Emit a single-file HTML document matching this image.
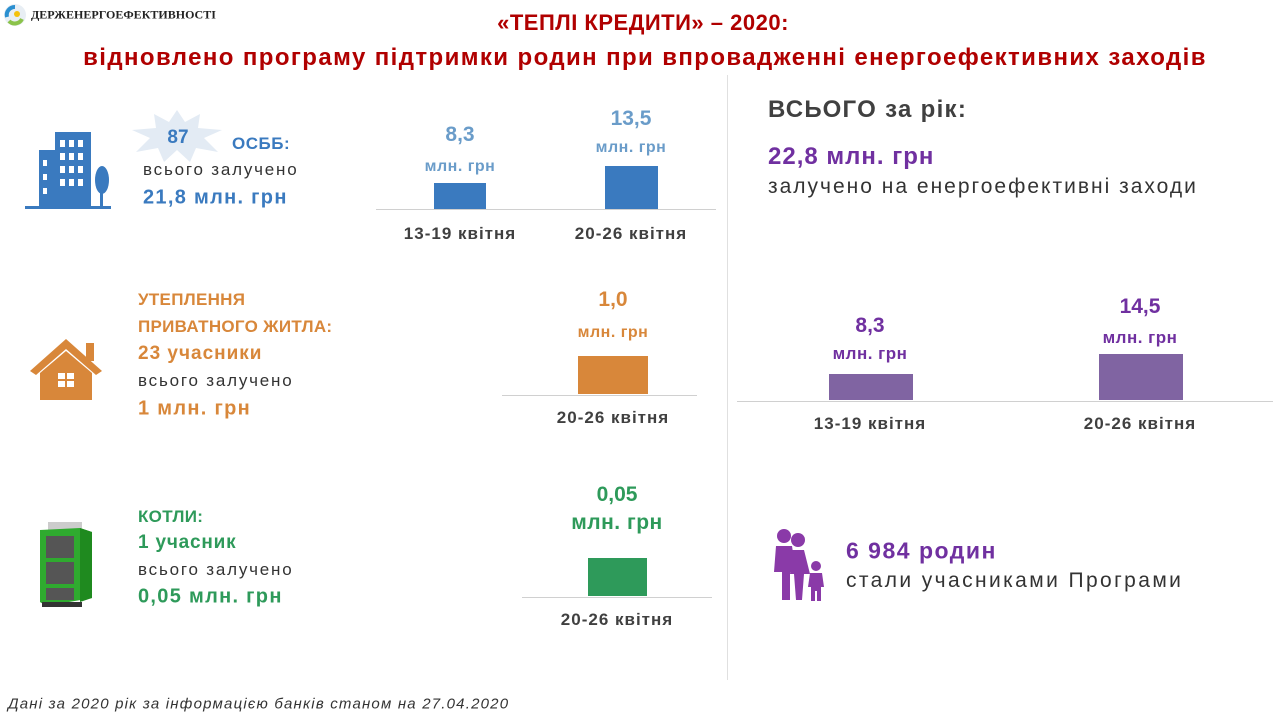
<!DOCTYPE html>
<html><head><meta charset="utf-8"><style>
body{margin:0;width:1280px;height:720px;background:#fff;position:relative;overflow:hidden;font-family:"Liberation Sans","DejaVu Sans",sans-serif}
.a{position:absolute;white-space:nowrap}
.c{transform:translate(-50%,-50%)}
.l{transform:translateY(-50%)}
.b{font-weight:bold}
.bar{position:absolute}
.ax{position:absolute;height:1px;background:#d0d0d0}
.cat{position:absolute;transform:translate(-50%,-50%);font-weight:bold;font-size:17px;letter-spacing:1px;color:#404040;white-space:nowrap}
</style></head><body>
<svg class="a" style="left:3px;top:3px" width="24" height="24"><circle cx="12" cy="12" r="11" fill="#e8eef4"/><path d="M4 14a8 8 0 0 1 8-10" stroke="#2a8fd0" stroke-width="4" fill="none"/><path d="M6 18a8 8 0 0 0 13-2" stroke="#8bc34a" stroke-width="4" fill="none"/><circle cx="14" cy="11" r="3" fill="#f4c20d"/></svg>
<div class="a l b" style="left:31px;top:15px;font-family:'Liberation Serif',serif;font-size:12px;color:#222">ДЕРЖЕНЕРГОЕФЕКТИВНОСТІ</div>
<div class="a c b" style="left:643px;top:23px;font-size:22px;letter-spacing:0.5px;color:#b00000">«ТЕПЛІ КРЕДИТИ» – 2020:</div>
<div class="a c b" style="left:645px;top:58px;font-size:24px;letter-spacing:1.4px;color:#b00000">відновлено програму підтримки родин при впровадженні енергоефективних заходів</div>
<div style="position:absolute;left:727px;top:75px;width:1px;height:605px;background:#e0e0e0"></div>

<svg class="a" style="left:25px;top:130px" width="88" height="80"><rect x="0" y="76" width="86" height="3" fill="#3a7abf"/><rect x="14" y="20" width="20" height="58" fill="#3a7abf"/><rect x="30" y="2" width="36" height="76" fill="#3a7abf"/><g fill="#fff"><rect x="35" y="10" width="5" height="7"/><rect x="44" y="10" width="5" height="7"/><rect x="53" y="10" width="5" height="7"/><rect x="35" y="23" width="5" height="7"/><rect x="44" y="23" width="5" height="7"/><rect x="53" y="23" width="5" height="7"/><rect x="35" y="36" width="5" height="7"/><rect x="44" y="36" width="5" height="7"/><rect x="53" y="36" width="5" height="7"/><rect x="35" y="49" width="5" height="7"/><rect x="44" y="49" width="5" height="7"/><rect x="53" y="49" width="5" height="7"/><rect x="18" y="30" width="4" height="6"/><rect x="18" y="44" width="4" height="6"/><rect x="18" y="58" width="4" height="6"/></g><ellipse cx="77" cy="50" rx="7" ry="14" fill="#3a7abf"/><rect x="75" y="55" width="3" height="22" fill="#3a7abf"/></svg>
<svg class="a" style="left:130px;top:110px" width="94" height="52"><polygon points="47,0 55,12 70,4 68,18 92,20 74,28 88,42 66,38 60,52 47,40 34,52 28,38 6,42 20,28 2,20 26,18 24,4 39,12" fill="#e3ebf4"/></svg>
<div class="a c b" style="left:178px;top:138px;font-size:19px;color:#3a7abf">87</div>
<div class="a l b" style="left:232px;top:144px;font-size:17px;letter-spacing:0.5px;color:#3a7abf">ОСББ:</div>
<div class="a l" style="left:143px;top:170px;font-size:17px;letter-spacing:1.8px;color:#333">всього залучено</div>
<div class="a l b" style="left:143px;top:198px;font-size:20px;letter-spacing:1.3px;color:#3a7abf">21,8 млн. грн</div>
<div class="a c b" style="left:460px;top:135px;font-size:21px;color:#6a9cc9">8,3</div>
<div class="a c b" style="left:460px;top:167px;font-size:16px;letter-spacing:0.5px;color:#6a9cc9">млн. грн</div>
<div class="a c b" style="left:631px;top:119px;font-size:21px;color:#6a9cc9">13,5</div>
<div class="a c b" style="left:631px;top:148px;font-size:16px;letter-spacing:0.5px;color:#6a9cc9">млн. грн</div>
<div class="bar" style="left:434px;top:183px;width:52px;height:26px;background:#3a7abf"></div>
<div class="bar" style="left:605px;top:166px;width:53px;height:43px;background:#3a7abf"></div>
<div class="ax" style="left:376px;top:209px;width:340px"></div>
<div class="cat" style="left:460px;top:234px">13-19 квітня</div>
<div class="cat" style="left:631px;top:234px">20-26 квітня</div>

<svg class="a" style="left:28px;top:337px" width="76" height="64"><polygon points="38,2 74,34 68,38 38,12 8,38 2,34" fill="#d8873a"/><rect x="58" y="6" width="8" height="18" fill="#d8873a"/><polygon points="12,36 38,14 64,36 64,63 12,63" fill="#d8873a"/><rect x="30" y="36" width="16" height="14" fill="#fff"/><line x1="38" y1="36" x2="38" y2="50" stroke="#d8873a" stroke-width="2"/><line x1="30" y1="43" x2="46" y2="43" stroke="#d8873a" stroke-width="2"/></svg>
<div class="a l b" style="left:138px;top:300px;font-size:17px;letter-spacing:0.3px;color:#d8873a">УТЕПЛЕННЯ</div>
<div class="a l b" style="left:138px;top:327px;font-size:17px;letter-spacing:0.3px;color:#d8873a">ПРИВАТНОГО ЖИТЛА:</div>
<div class="a l b" style="left:138px;top:354px;font-size:19px;letter-spacing:1px;color:#d8873a">23 учасники</div>
<div class="a l" style="left:138px;top:381px;font-size:17px;letter-spacing:1.8px;color:#333">всього залучено</div>
<div class="a l b" style="left:138px;top:409px;font-size:20px;letter-spacing:1.3px;color:#d8873a">1 млн. грн</div>
<div class="a c b" style="left:613px;top:300px;font-size:21px;color:#d8873a">1,0</div>
<div class="a c b" style="left:613px;top:333px;font-size:16px;letter-spacing:0.5px;color:#d8873a">млн. грн</div>
<div class="bar" style="left:578px;top:356px;width:70px;height:38px;background:#d8873a"></div>
<div class="ax" style="left:502px;top:395px;width:195px"></div>
<div class="cat" style="left:613px;top:418px">20-26 квітня</div>

<svg class="a" style="left:36px;top:518px" width="58" height="90"><rect x="12" y="4" width="34" height="8" fill="#ccc"/><polygon points="4,12 44,10 56,14 56,80 10,88 4,84" fill="#2faa2f"/><polygon points="44,10 56,14 56,80 44,84" fill="#1f8a1f"/><rect x="10" y="18" width="28" height="22" fill="#555"/><rect x="10" y="44" width="28" height="22" fill="#555"/><rect x="10" y="70" width="28" height="12" fill="#555"/><rect x="6" y="84" width="40" height="5" fill="#333"/></svg>
<div class="a l b" style="left:138px;top:517px;font-size:17px;letter-spacing:0.3px;color:#2e9a5a">КОТЛИ:</div>
<div class="a l b" style="left:138px;top:543px;font-size:19px;letter-spacing:0.8px;color:#2e9a5a">1 учасник</div>
<div class="a l" style="left:138px;top:570px;font-size:17px;letter-spacing:1.8px;color:#333">всього залучено</div>
<div class="a l b" style="left:138px;top:597px;font-size:20px;letter-spacing:1.3px;color:#2e9a5a">0,05 млн. грн</div>
<div class="a c b" style="left:617px;top:495px;font-size:21px;color:#2e9a5a">0,05</div>
<div class="a c b" style="left:617px;top:523px;font-size:21px;letter-spacing:0.5px;color:#2e9a5a">млн. грн</div>
<div class="bar" style="left:588px;top:558px;width:59px;height:38px;background:#2e9a5a"></div>
<div class="ax" style="left:522px;top:597px;width:190px"></div>
<div class="cat" style="left:617px;top:620px">20-26 квітня</div>

<div class="a l b" style="left:768px;top:110px;font-size:24px;letter-spacing:1.3px;color:#404040">ВСЬОГО за рік:</div>
<div class="a l b" style="left:768px;top:157px;font-size:24px;letter-spacing:1px;color:#7030a0">22,8 млн. грн</div>
<div class="a l" style="left:768px;top:187px;font-size:21px;letter-spacing:2px;color:#333">залучено на енергоефективні заходи</div>
<div class="a c b" style="left:870px;top:326px;font-size:21px;color:#7030a0">8,3</div>
<div class="a c b" style="left:870px;top:354px;font-size:17px;letter-spacing:0.5px;color:#7030a0">млн. грн</div>
<div class="a c b" style="left:1140px;top:307px;font-size:21px;color:#7030a0">14,5</div>
<div class="a c b" style="left:1140px;top:338px;font-size:17px;letter-spacing:0.5px;color:#7030a0">млн. грн</div>
<div class="bar" style="left:829px;top:374px;width:84px;height:26px;background:#8064a2"></div>
<div class="bar" style="left:1099px;top:354px;width:84px;height:46px;background:#8064a2"></div>
<div class="ax" style="left:737px;top:401px;width:536px"></div>
<div class="cat" style="left:870px;top:424px">13-19 квітня</div>
<div class="cat" style="left:1140px;top:424px">20-26 квітня</div>
<svg class="a" style="left:770px;top:528px" width="58" height="74" fill="#8a3aa8"><circle cx="14" cy="8" r="7"/><circle cx="28" cy="12" r="7"/><path d="M6 18h16l4 26h-6v28h-8v-28h-8z"/><path d="M22 22h12l6 24h-6l-2 26h-6l-2-26h-4z"/><circle cx="46" cy="38" r="5"/><path d="M40 45h12l2 14h-3v14h-4v-10h-2v10h-4v-14h-3z"/></svg>
<div class="a l b" style="left:846px;top:551px;font-size:23px;letter-spacing:1.5px;color:#7030a0">6 984 родин</div>
<div class="a l" style="left:846px;top:581px;font-size:21px;letter-spacing:2.4px;color:#333">стали учасниками Програми</div>

<div class="a l" style="left:8px;top:704px;font-size:15px;letter-spacing:1.2px;font-style:italic;color:#333">Дані за 2020 рік за інформацією банків станом на 27.04.2020</div>
</body></html>
